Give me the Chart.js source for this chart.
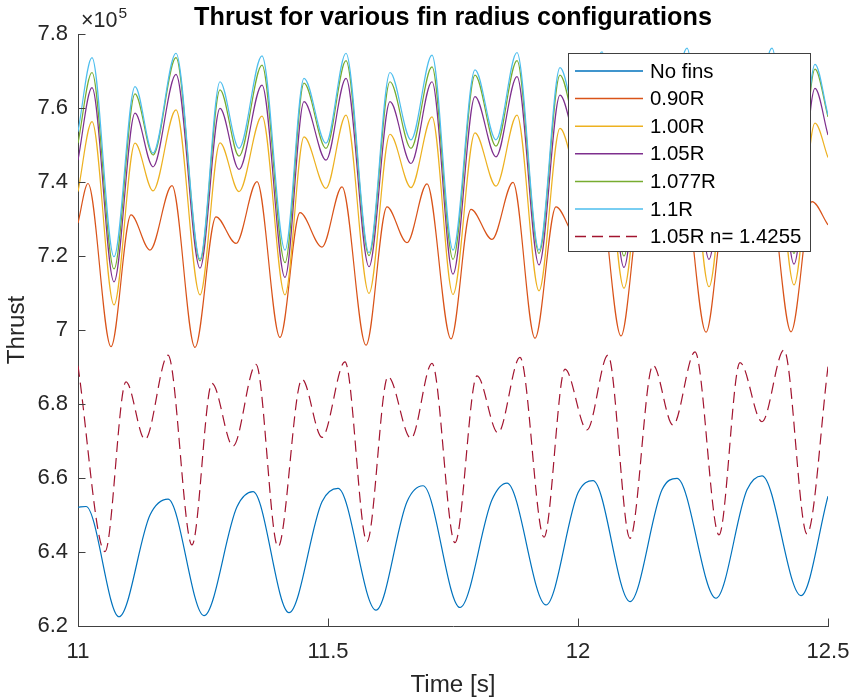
<!DOCTYPE html>
<html>
<head>
<meta charset="utf-8">
<title>Thrust for various fin radius configurations</title>
<script src="https://cdn.jsdelivr.net/npm/chart.js@4.4.1/dist/chart.umd.min.js"></script>
<style>
  html, body { margin: 0; padding: 0; background: #fff; }
</style>
</head>
<body>
<canvas id="thrustChart" width="851" height="700"></canvas>
<script>
// --- données : temps [s] et poussée (x 1e5) ---
const seriesLabels = ["No fins", "0.90R", "1.00R", "1.05R", "1.077R", "1.1R", "1.05R n= 1.4255"];

const tNoFins = [11.000, 11.016, 11.082, 11.144, 11.180, 11.252, 11.318, 11.350, 11.422, 11.488,
  11.520, 11.596, 11.658, 11.690, 11.764, 11.828, 11.858, 11.936, 12.000, 12.030,
  12.104, 12.168, 12.198, 12.276, 12.338, 12.368, 12.446, 12.500];
const noFins = [6.521, 6.523, 6.225, 6.500, 6.543, 6.228, 6.522, 6.563, 6.236, 6.536,
  6.572, 6.243, 6.536, 6.579, 6.250, 6.541, 6.586, 6.257, 6.560, 6.593,
  6.266, 6.568, 6.599, 6.275, 6.568, 6.606, 6.282, 6.551];

const tR090 = [11.000, 11.020, 11.066, 11.106, 11.144, 11.188, 11.234, 11.276, 11.316, 11.358,
  11.404, 11.444, 11.488, 11.528, 11.576, 11.618, 11.658, 11.698, 11.746, 11.786,
  11.828, 11.870, 11.914, 11.956, 11.998, 12.040, 12.086, 12.126, 12.168, 12.210,
  12.256, 12.296, 12.338, 12.380, 12.426, 12.468, 12.500];
const r090 = [7.289, 7.396, 6.955, 7.311, 7.216, 7.390, 6.953, 7.306, 7.234, 7.401,
  6.980, 7.317, 7.224, 7.387, 6.959, 7.333, 7.236, 7.395, 6.976, 7.326,
  7.245, 7.399, 6.978, 7.333, 7.250, 7.400, 6.984, 7.335, 7.250, 7.400,
  6.994, 7.340, 7.250, 7.400, 6.995, 7.347, 7.284];

// instants communs aux courbes 1.00R, 1.05R, 1.077R et 1.1R
const tTop = [11.000, 11.028, 11.072, 11.114, 11.150, 11.196, 11.244, 11.284, 11.322, 11.368,
  11.414, 11.452, 11.496, 11.536, 11.582, 11.624, 11.666, 11.708, 11.750, 11.794,
  11.836, 11.878, 11.922, 11.964, 12.006, 12.048, 12.092, 12.134, 12.176, 12.218,
  12.262, 12.304, 12.346, 12.388, 12.432, 12.474, 12.500];
const r100 = [7.374, 7.563, 7.068, 7.505, 7.376, 7.595, 7.095, 7.506, 7.374, 7.578,
  7.095, 7.522, 7.383, 7.581, 7.099, 7.529, 7.385, 7.576, 7.096, 7.533,
  7.389, 7.581, 7.106, 7.545, 7.390, 7.585, 7.113, 7.550, 7.395, 7.590,
  7.117, 7.555, 7.400, 7.590, 7.122, 7.559, 7.466];
const r105 = [7.459, 7.655, 7.130, 7.586, 7.441, 7.691, 7.167, 7.599, 7.434, 7.662,
  7.142, 7.617, 7.459, 7.680, 7.171, 7.617, 7.450, 7.671, 7.151, 7.631,
  7.468, 7.685, 7.176, 7.635, 7.470, 7.685, 7.169, 7.640, 7.475, 7.690,
  7.191, 7.645, 7.480, 7.690, 7.178, 7.653, 7.527];
const r1077 = [7.505, 7.696, 7.165, 7.638, 7.473, 7.736, 7.187, 7.649, 7.470, 7.716,
  7.182, 7.667, 7.491, 7.728, 7.201, 7.671, 7.491, 7.711, 7.191, 7.689,
  7.497, 7.728, 7.207, 7.689, 7.500, 7.730, 7.200, 7.690, 7.505, 7.740,
  7.214, 7.700, 7.510, 7.740, 7.207, 7.705, 7.576];
const r110 = [7.536, 7.736, 7.198, 7.658, 7.478, 7.748, 7.192, 7.671, 7.491, 7.741,
  7.216, 7.680, 7.505, 7.748, 7.209, 7.696, 7.514, 7.743, 7.216, 7.703,
  7.514, 7.750, 7.216, 7.709, 7.520, 7.752, 7.215, 7.712, 7.525, 7.762,
  7.220, 7.715, 7.530, 7.762, 7.220, 7.718, 7.581];

const tR105n = [11.000, 11.054, 11.096, 11.134, 11.180, 11.228, 11.268, 11.310, 11.356, 11.400,
  11.448, 11.488, 11.534, 11.578, 11.620, 11.666, 11.708, 11.754, 11.798, 11.840,
  11.884, 11.932, 11.974, 12.018, 12.060, 12.104, 12.150, 12.190, 12.234, 12.282,
  12.324, 12.368, 12.412, 12.458, 12.500];
const r105n = [6.903, 6.401, 6.860, 6.704, 6.932, 6.419, 6.856, 6.686, 6.907, 6.414,
  6.867, 6.710, 6.914, 6.428, 6.874, 6.707, 6.910, 6.425, 6.876, 6.722,
  6.926, 6.440, 6.894, 6.730, 6.932, 6.437, 6.905, 6.743, 6.941, 6.446,
  6.912, 6.752, 6.946, 6.449, 6.901];

const xTicks = [11, 11.5, 12, 12.5];
const xTickLabels = ["11", "11.5", "12", "12.5"];
const yTicks = [6.2, 6.4, 6.6, 6.8, 7, 7.2, 7.4, 7.6, 7.8];
const yTickLabels = ["6.2", "6.4", "6.6", "6.8", "7", "7.2", "7.4", "7.6", "7.8"];

// --- style ---
const FONT = "'Liberation Sans', Arial, Helvetica, sans-serif";
const AXIS_COLOR = "#404040";
const TEXT_COLOR = "#262626";
const colors = ["#0072BD", "#D95319", "#EDB120", "#7E2F8E", "#77AC30", "#4DBEEE", "#A2142F"];
const dashes = [[], [], [], [], [], [], [11, 6]];

const series = [
  [tNoFins, noFins], [tR090, r090], [tTop, r100], [tTop, r105],
  [tTop, r1077], [tTop, r110], [tR105n, r105n]
];

const datasets = series.map(([t, v], i) => ({
  label: seriesLabels[i],
  data: t.map((tt, k) => ({ x: tt, y: v[k] })),
  borderColor: colors[i],
  borderWidth: 1.2,
  borderDash: dashes[i],
  pointRadius: 0,
  cubicInterpolationMode: "monotone",
  fill: false,
  order: series.length - i // dernier tracé au-dessus
}));

// Titre, exposant et graduations intérieures
const decorations = {
  id: "decorations",
  afterDraw(chart) {
    const { ctx, chartArea: a, scales: { x, y } } = chart;
    ctx.save();
    // graduations vers l'intérieur
    ctx.strokeStyle = AXIS_COLOR;
    ctx.lineWidth = 1;
    ctx.beginPath();
    xTicks.forEach(v => {
      const px = Math.round(x.getPixelForValue(v)) + 0.5;
      ctx.moveTo(px, a.bottom);
      ctx.lineTo(px, a.bottom - 7.5);
    });
    yTicks.forEach(v => {
      const py = Math.round(y.getPixelForValue(v)) + 0.5;
      ctx.moveTo(a.left, py);
      ctx.lineTo(a.left + 7.5, py);
    });
    ctx.stroke();

    // titre centré sur les axes
    ctx.fillStyle = "#000";
    ctx.font = "bold 25.2px " + FONT;
    ctx.textAlign = "center";
    ctx.textBaseline = "alphabetic";
    ctx.fillText("Thrust for various fin radius configurations", (a.left + a.right) / 2, 25);

    // facteur d'échelle x10^5
    ctx.fillStyle = TEXT_COLOR;
    ctx.textAlign = "left";
    ctx.font = "21.5px " + FONT;
    const base = "\u00d710";
    ctx.fillText(base, a.left + 3, 27);
    const wBase = ctx.measureText(base).width;
    ctx.font = "15.5px " + FONT;
    ctx.fillText("5", a.left + 4 + wBase, 18);
    ctx.restore();
  }
};

// Légende en haut à droite, par-dessus les courbes
const legendBox = {
  id: "legendBox",
  afterDatasetsDraw(chart) {
    const { ctx, chartArea: a } = chart;
    const w = 242, h = 198;
    const left = a.right - 18 - w, top = a.top + 19;
    ctx.save();
    ctx.fillStyle = "#fff";
    ctx.fillRect(left, top, w, h);
    ctx.strokeStyle = AXIS_COLOR;
    ctx.lineWidth = 1;
    ctx.strokeRect(left + 0.5, top + 0.5, w, h);
    ctx.font = "20.4px " + FONT;
    ctx.textAlign = "left";
    ctx.textBaseline = "middle";
    seriesLabels.forEach((lab, i) => {
      const yy = top + 18 + i * 27.6;
      ctx.strokeStyle = colors[i];
      ctx.lineWidth = 1.5;
      ctx.setLineDash(dashes[i]);
      ctx.beginPath();
      ctx.moveTo(left + 7, yy);
      ctx.lineTo(left + 75, yy);
      ctx.stroke();
      ctx.setLineDash([]);
      ctx.fillStyle = "#000";
      ctx.fillText(lab, left + 82, yy + 1);
    });
    ctx.restore();
  }
};

new Chart(document.getElementById("thrustChart"), {
  type: "line",
  data: { datasets },
  options: {
    responsive: false,
    animation: false,
    devicePixelRatio: 1,
    layout: { padding: { left: 0, right: 23, top: 34, bottom: 0 } },
    plugins: { legend: { display: false }, tooltip: { enabled: false } },
    scales: {
      x: {
        type: "linear",
        min: 11,
        max: 12.5,
        afterBuildTicks: s => { s.ticks = xTicks.map(v => ({ value: v })); },
        afterFit: s => {
          s.height = 74;
          // les étiquettes extrêmes débordent dans la marge fixe
          s.paddingLeft = 0;
          s.paddingRight = 0;
        },
        grid: { display: false, drawTicks: false },
        border: { display: true, color: AXIS_COLOR, width: 1 },
        ticks: {
          font: { family: FONT, size: 22 },
          color: TEXT_COLOR,
          padding: 13,
          maxRotation: 0,
          callback: (v) => xTickLabels[xTicks.indexOf(v)]
        },
        title: {
          display: true,
          text: "Time [s]",
          font: { family: FONT, size: 24.2 },
          color: TEXT_COLOR,
          padding: { top: 0, bottom: 0 }
        }
      },
      y: {
        type: "linear",
        min: 6.2,
        max: 7.8,
        afterBuildTicks: s => { s.ticks = yTicks.map(v => ({ value: v })); },
        afterFit: s => {
          s.width = 78;
          s.paddingTop = 0;
          s.paddingBottom = 0;
        },
        grid: { display: false, drawTicks: false },
        border: { display: true, color: AXIS_COLOR, width: 1 },
        ticks: {
          font: { family: FONT, size: 22 },
          color: TEXT_COLOR,
          padding: 10,
          callback: (v) => yTickLabels[yTicks.indexOf(v)]
        },
        title: {
          display: true,
          text: "Thrust",
          font: { family: FONT, size: 24.2 },
          color: TEXT_COLOR,
          padding: { top: 3, bottom: 0 }
        }
      }
    }
  },
  plugins: [decorations, legendBox]
});
</script>
</body>
</html>
